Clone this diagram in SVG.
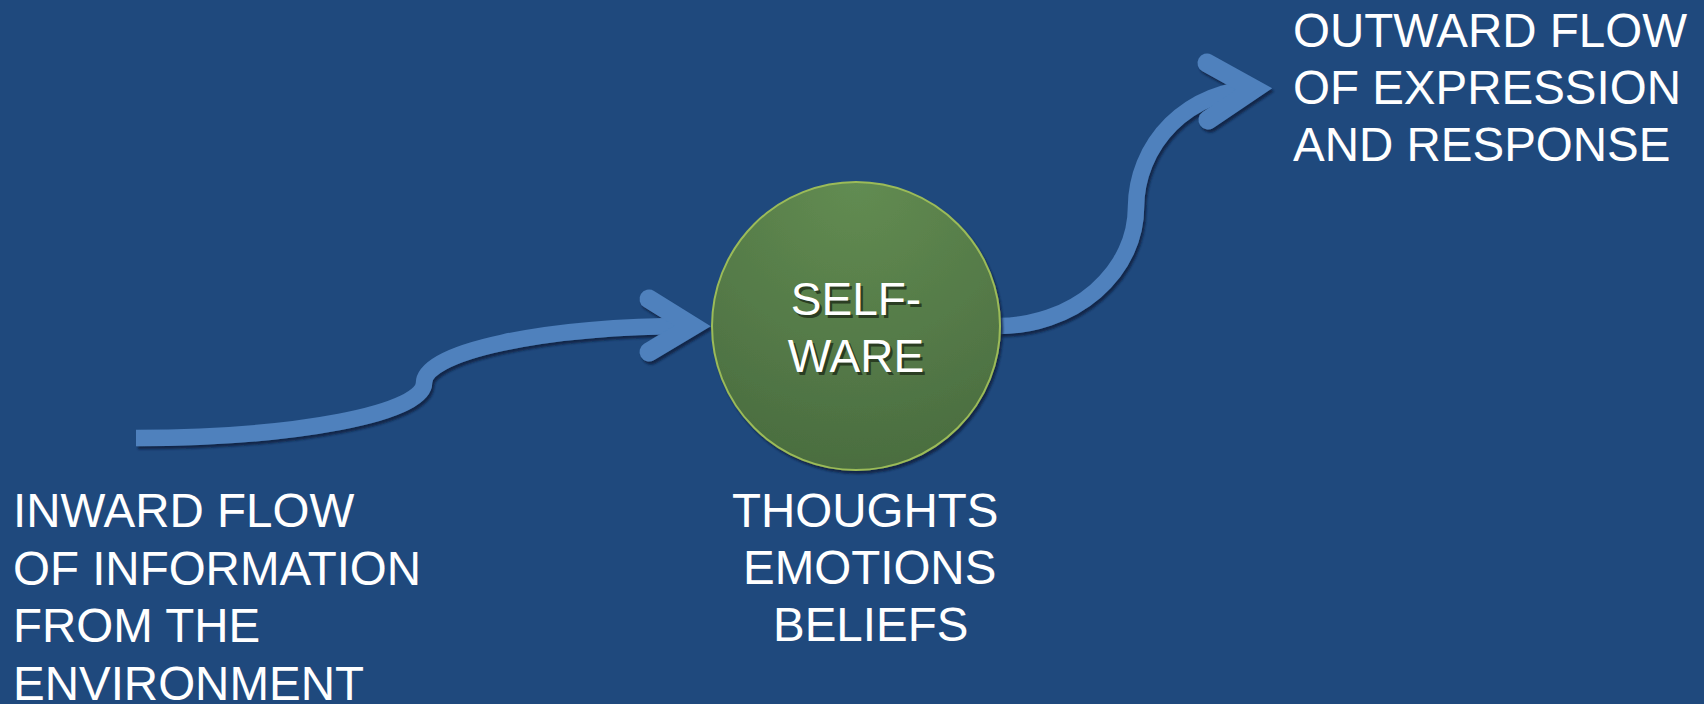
<svg xmlns="http://www.w3.org/2000/svg" width="1704" height="704" viewBox="0 0 1704 704">
  <defs>
    <style>
      .label { font-family: "Liberation Sans", Arial, sans-serif; font-size: 47.5px; fill: #ffffff; }
      .core { font-family: "Liberation Sans", Arial, sans-serif; font-size: 46px; text-anchor: middle; }
      .flow { fill: none; stroke: #4f81bd; stroke-width: 16.5; }
      .head { fill: none; stroke: #4f81bd; stroke-width: 19; stroke-linecap: round; stroke-linejoin: miter; stroke-miterlimit: 10; }
    </style>
    <radialGradient id="coreFill" cx="0.5" cy="0" r="1.1" fx="0.5" fy="0">
      <stop offset="0" stop-color="#628c52"/>
      <stop offset="1" stop-color="#486a3e"/>
    </radialGradient>
    <filter id="shadow" x="-10%" y="-10%" width="120%" height="130%">
      <feDropShadow dx="2" dy="3" stdDeviation="1" flood-color="#0e2341" flood-opacity="0.85"/>
    </filter>
  </defs>

  <!-- background -->
  <rect width="1704" height="704" fill="#1f497d"/>

  <!-- connectors: inward and outward flow arrows -->
  <g id="connectors" filter="url(#shadow)">
    <g id="inward-flow">
      <path class="flow" d="M136,438 A288,55 0 0 0 424,383 A268,57 0 0 1 692,326"/>
      <polyline class="head" points="649,299 692.5,326 649,352"/>
    </g>
    <g id="outward-flow">
      <path class="flow" d="M998,326 A138,119 0 0 0 1136,207 A121,119 0 0 1 1255,89"/>
      <polyline class="head" points="1207,63 1254,89 1208,120"/>
    </g>
  </g>

  <!-- central node -->
  <g id="self-ware">
    <circle cx="856" cy="326" r="144" fill="url(#coreFill)" stroke="#9bbb59" stroke-width="2" filter="url(#shadow)"/>
    <g class="core">
      <text x="858.5" y="317.5" fill="#2a3d22">SELF-</text>
      <text x="858.5" y="374.5" fill="#2a3d22">WARE</text>
      <text x="856" y="315" fill="#ffffff">SELF-</text>
      <text x="856" y="372" fill="#ffffff">WARE</text>
    </g>
  </g>

  <!-- inward label -->
  <g id="inward-label">
    <text class="label" x="13" y="527">INWARD FLOW</text>
    <text class="label" x="13" y="585">OF INFORMATION</text>
    <text class="label" x="13" y="642">FROM THE</text>
    <text class="label" x="13" y="700">ENVIRONMENT</text>
  </g>

  <!-- inner contents label -->
  <g id="contents-label">
    <text class="label" x="732" y="527">THOUGHTS</text>
    <text class="label" x="743" y="584">EMOTIONS</text>
    <text class="label" x="773" y="641">BELIEFS</text>
  </g>

  <!-- outward label -->
  <g id="outward-label">
    <text class="label" x="1293" y="47">OUTWARD FLOW</text>
    <text class="label" x="1293" y="104">OF EXPRESSION</text>
    <text class="label" x="1293" y="161">AND RESPONSE</text>
  </g>
</svg>
